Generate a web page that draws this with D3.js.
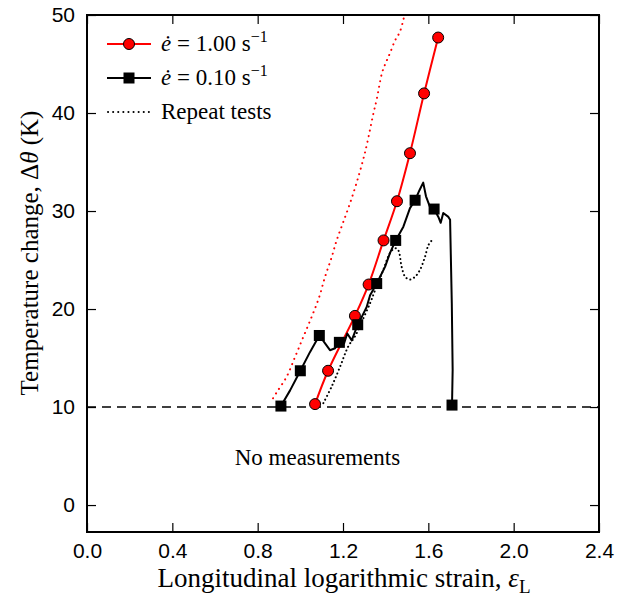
<!DOCTYPE html>
<html>
<head>
<meta charset="utf-8">
<script src="https://cdn.jsdelivr.net/npm/d3@7"></script>
<style>
  body { margin: 0; background: #fff; }
  svg { font-family: "Liberation Serif", "DejaVu Serif", serif; }
</style>
</head>
<body>
<svg id="chart" width="622" height="601"></svg>
<script>
// strain / temperature change pairs

// ė = 1.00 s^-1, measured curve (markers on it)
const fastStrain = [1.069, 1.130, 1.256, 1.320, 1.390, 1.453, 1.514, 1.580, 1.646];
const fastTemp   = [10.3, 13.7, 19.3, 22.5, 27.0, 31.0, 35.9, 42.0, 47.7];

// ė = 0.10 s^-1, measured curve
const slowStrain = [0.909, 0.952, 1.000, 1.045, 1.089, 1.116, 1.139, 1.163, 1.183, 1.205, 1.220, 1.241,
  1.269, 1.288, 1.311, 1.327, 1.358, 1.397, 1.420, 1.447, 1.483, 1.514, 1.538, 1.558, 1.576, 1.589,
  1.608, 1.627, 1.647, 1.658, 1.670, 1.694, 1.702, 1.710, 1.714, 1.711];
const slowTemp = [10.1, 11.7, 13.7, 15.6, 17.3, 16.5, 15.8, 16.0, 16.6, 16.5, 17.5, 16.8,
  18.4, 19.2, 20.2, 21.4, 22.6, 24.3, 25.7, 27.0, 28.4, 30.3, 31.1, 32.1, 32.9, 31.5,
  30.4, 30.2, 29.4, 28.8, 29.8, 29.4, 29.1, 20.6, 13.8, 10.2];
// square markers on the 0.10 curve
const slowMarkStrain = [0.909, 1.000, 1.089, 1.183, 1.269, 1.358, 1.447, 1.538, 1.627, 1.711];
const slowMarkTemp   = [10.1, 13.7, 17.3, 16.6, 18.4, 22.6, 27.0, 31.1, 30.2, 10.2];

// repeat tests (dotted)
const repFastStrain = [0.872, 0.895, 0.936, 0.975, 1.013, 1.053, 1.088, 1.116, 1.147, 1.170, 1.200,
  1.233, 1.264, 1.294, 1.313, 1.341, 1.359, 1.383, 1.402, 1.420, 1.444, 1.467, 1.486];
const repFastTemp = [10.9, 11.7, 13.1, 15.1, 17.1, 19.2, 21.2, 23.3, 25.3, 27.0, 28.8,
  30.8, 32.9, 35.2, 36.9, 39.8, 41.5, 44.1, 45.2, 46.1, 47.4, 48.3, 49.8];
const repSlowStrain = [1.108, 1.147, 1.186, 1.225, 1.256, 1.288, 1.327, 1.350, 1.389, 1.420, 1.444,
  1.459, 1.475, 1.491, 1.514, 1.538, 1.561, 1.584, 1.600, 1.616];
const repSlowTemp = [10.4, 12.1, 14.1, 16.2, 17.2, 18.7, 20.6, 21.9, 24.0, 25.7, 26.2,
  26.0, 24.3, 23.3, 23.0, 23.3, 24.0, 25.3, 26.5, 27.0];

const xTicks = [0.0, 0.4, 0.8, 1.2, 1.6, 2.0, 2.4];
const yTicks = [0, 10, 20, 30, 40, 50];
const thresholdTemp = 10;

const zip = (xs, ys) => xs.map((x, i) => [x, ys[i]]);

const svg = d3.select('#chart');
const M = { left: 87, right: 23, top: 15, bottom: 69 };
const W = 622, H = 601;

const x = d3.scaleLinear().domain([0, 2.4]).range([M.left, W - M.right]);
const y = d3.scaleLinear().domain([-2.75, 50]).range([H - M.bottom, M.top]);

const fontTick = '21px';

// ── axes (ticks inward on all four sides) ──
function styleAxis(g) {
  g.select('.domain').remove();
  g.selectAll('.tick line').attr('stroke', '#000').attr('stroke-width', 1.2);
  g.selectAll('text').style('font-size', fontTick).attr('fill', '#000');
}
svg.append('g').attr('transform', `translate(0,${H - M.bottom})`)
  .call(d3.axisBottom(x).tickValues(xTicks).tickSize(-9).tickPadding(11).tickFormat(d3.format('.1f')))
  .call(styleAxis);
svg.append('g').attr('transform', `translate(0,${M.top})`)
  .call(d3.axisTop(x).tickValues(xTicks).tickSize(-9).tickFormat(''))
  .call(styleAxis);
svg.append('g').attr('transform', `translate(${M.left},0)`)
  .call(d3.axisLeft(y).tickValues(yTicks).tickSize(-9).tickPadding(12))
  .call(styleAxis);
svg.append('g').attr('transform', `translate(${W - M.right},0)`)
  .call(d3.axisRight(y).tickValues(yTicks).tickSize(-9).tickFormat(''))
  .call(styleAxis);

// frame
svg.append('rect')
  .attr('x', M.left).attr('y', M.top)
  .attr('width', W - M.left - M.right).attr('height', H - M.top - M.bottom)
  .attr('fill', 'none').attr('stroke', '#000').attr('stroke-width', 2);

// ── plot area ──
svg.append('clipPath').attr('id', 'clip').append('rect')
  .attr('x', M.left).attr('y', M.top)
  .attr('width', W - M.left - M.right).attr('height', H - M.top - M.bottom);
const plot = svg.append('g').attr('clip-path', 'url(#clip)');

const line = d3.line().x(d => x(d[0])).y(d => y(d[1]));
const smooth = d3.line().x(d => x(d[0])).y(d => y(d[1])).curve(d3.curveCatmullRom);

plot.append('line')
  .attr('x1', x(0)).attr('x2', x(2.4))
  .attr('y1', y(thresholdTemp)).attr('y2', y(thresholdTemp))
  .attr('stroke', '#000').attr('stroke-width', 1.6).attr('stroke-dasharray', '9,6');

plot.append('path').datum(zip(repFastStrain, repFastTemp))
  .attr('d', smooth).attr('fill', 'none').attr('stroke', '#ff0000')
  .attr('stroke-width', 2).attr('stroke-dasharray', '0.1,5.5').attr('stroke-linecap', 'round');
plot.append('path').datum(zip(repSlowStrain, repSlowTemp))
  .attr('d', smooth).attr('fill', 'none').attr('stroke', '#000')
  .attr('stroke-width', 2).attr('stroke-dasharray', '0.1,4').attr('stroke-linecap', 'round');

plot.append('path').datum(zip(fastStrain, fastTemp))
  .attr('d', smooth).attr('fill', 'none').attr('stroke', '#ff0000').attr('stroke-width', 2);
plot.selectAll('circle.fast').data(zip(fastStrain, fastTemp)).join('circle')
  .attr('class', 'fast')
  .attr('cx', d => x(d[0])).attr('cy', d => y(d[1])).attr('r', 5.5)
  .attr('fill', '#ff0000').attr('stroke', '#000').attr('stroke-width', 1);

plot.append('path').datum(zip(slowStrain, slowTemp))
  .attr('d', line).attr('fill', 'none').attr('stroke', '#000').attr('stroke-width', 2)
  .attr('stroke-linejoin', 'round');
plot.selectAll('rect.slow').data(zip(slowMarkStrain, slowMarkTemp)).join('rect')
  .attr('class', 'slow')
  .attr('x', d => x(d[0]) - 5.5).attr('y', d => y(d[1]) - 5.5)
  .attr('width', 11).attr('height', 11).attr('fill', '#000');

svg.append('text')
  .attr('x', x(1.08)).attr('y', y(4.6))
  .attr('text-anchor', 'middle').attr('dominant-baseline', 'middle')
  .style('font-size', '23px').text('No measurements');

// ── legend ──
const legend = svg.append('g');
const rows = [
  { y: 44, color: '#ff0000', mark: 'circle', rate: '1.00' },
  { y: 78, color: '#000', mark: 'square', rate: '0.10' },
  { y: 112, color: '#000', mark: 'dots' }
];
rows.forEach(r => {
  const g = legend.append('g');
  if (r.mark === 'dots') {
    g.append('line').attr('x1', 108).attr('x2', 150).attr('y1', r.y).attr('y2', r.y)
      .attr('stroke', '#000').attr('stroke-width', 2)
      .attr('stroke-dasharray', '0.1,5').attr('stroke-linecap', 'round');
    g.append('text').attr('x', 161).attr('y', r.y + 7).style('font-size', '23px').text('Repeat tests');
    return;
  }
  g.append('line').attr('x1', 107).attr('x2', 151).attr('y1', r.y).attr('y2', r.y)
    .attr('stroke', r.color).attr('stroke-width', 2);
  if (r.mark === 'circle') {
    g.append('circle').attr('cx', 129).attr('cy', r.y).attr('r', 5.5)
      .attr('fill', '#ff0000').attr('stroke', '#000');
  } else {
    g.append('rect').attr('x', 123.5).attr('y', r.y - 5.5).attr('width', 11).attr('height', 11).attr('fill', '#000');
  }
  const t = g.append('text').attr('x', 161).attr('y', r.y + 7).style('font-size', '23px');
  t.append('tspan').style('font-style', 'italic').text('e\u0307');
  t.append('tspan').text(` = ${r.rate} s`);
  t.append('tspan').attr('dy', -9).style('font-size', '16px').text('\u22121');
});

// ── axis titles ──
const xt = svg.append('text')
  .attr('x', 344).attr('y', 587)
  .attr('text-anchor', 'middle').style('font-size', '27px');
xt.append('tspan').text('Longitudinal logarithmic strain, ');
xt.append('tspan').style('font-style', 'italic').text('\u03b5');
xt.append('tspan').attr('dy', 6).style('font-size', '19px').text('L');

const yt = svg.append('text')
  .attr('transform', 'translate(38,253) rotate(-90)')
  .attr('text-anchor', 'middle').style('font-size', '25px');
yt.append('tspan').text('Temperature change, \u0394');
yt.append('tspan').style('font-style', 'italic').text('\u03b8');
yt.append('tspan').text(' (K)');
</script>
</body>
</html>
